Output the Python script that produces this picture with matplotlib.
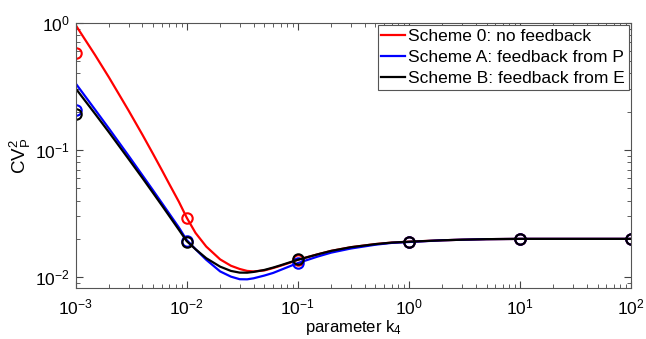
import numpy as np
import matplotlib.pyplot as plt
from matplotlib.ticker import LogLocator, LogFormatterSciNotation, NullFormatter

plt.rcParams['font.family'] = ['Liberation Sans', 'DejaVu Sans']
plt.rcParams['mathtext.fontset'] = 'custom'
plt.rcParams['mathtext.rm'] = 'Liberation Sans'
plt.rcParams['mathtext.it'] = 'Liberation Sans'
plt.rcParams['mathtext.default'] = 'regular'

# curves (k4, CV_P^2)
k_red = [1e-3, 1.5e-3, 2e-3, 3e-3, 4e-3, 5e-3, 6e-3, 7e-3, 8.5e-3, 1e-2, 1.2e-2, 1.5e-2,
         2e-2, 2.5e-2, 3e-2, 3.5e-2, 4e-2, 5e-2, 6e-2, 7e-2, 8.5e-2, 0.1, 0.15, 0.2, 0.3,
         0.5, 0.7, 1, 2, 3, 5, 10, 100]
cv_red = [0.96, 0.556, 0.371, 0.204, 0.1315, 0.0925, 0.069, 0.0536, 0.0392, 0.0294, 0.0223,
          0.0174, 0.0138, 0.0123, 0.0116, 0.0112, 0.0111, 0.0113, 0.0118, 0.0123, 0.0130,
          0.0137, 0.0151, 0.0161, 0.0172, 0.0182, 0.0187, 0.0190, 0.0195, 0.0197, 0.0199,
          0.0200, 0.0200]

k_blue = [1e-3, 1.5e-3, 2e-3, 3e-3, 4e-3, 5e-3, 6e-3, 7e-3, 8.5e-3, 1e-2, 1.2e-2, 1.5e-2,
          2e-2, 2.5e-2, 3e-2, 3.5e-2, 4e-2, 5e-2, 6e-2, 7e-2, 8.5e-2, 0.1, 0.15, 0.2, 0.3,
          0.5, 0.7, 1, 2, 3, 5, 10, 100]
cv_blue = [0.334, 0.207, 0.147, 0.090, 0.0631, 0.0479, 0.0381, 0.0314, 0.0246, 0.0196,
           0.0166, 0.0137, 0.0111, 0.0101, 0.00964, 0.00962, 0.0098, 0.0103, 0.0108, 0.0114,
           0.0122, 0.0129, 0.0145, 0.0156, 0.0168, 0.0180, 0.0186, 0.0189, 0.0195, 0.0197,
           0.0199, 0.0200, 0.0200]

k_black = [1e-3, 1.5e-3, 2e-3, 3e-3, 4e-3, 5e-3, 6e-3, 7e-3, 8.5e-3, 1e-2, 1.2e-2, 1.5e-2,
           2e-2, 2.5e-2, 3e-2, 3.5e-2, 4e-2, 5e-2, 6e-2, 7e-2, 8.5e-2, 0.1, 0.15, 0.2, 0.3,
           0.5, 0.7, 1, 2, 3, 5, 10, 100]
cv_black = [0.305, 0.192, 0.1375, 0.0849, 0.0601, 0.0457, 0.0365, 0.0301, 0.0236, 0.0192,
            0.0166, 0.0141, 0.0121, 0.0112, 0.01086, 0.01085, 0.0110, 0.0114, 0.0119, 0.0124,
            0.0131, 0.0137, 0.0151, 0.0161, 0.0172, 0.0182, 0.0187, 0.0190, 0.0195, 0.0197,
            0.0199, 0.0200, 0.0200]

# simulation points (circles)
k_pts = [1e-3, 1e-2, 1e-1, 1, 10, 100]
pts_red = [0.58, 0.0294, 0.0137, 0.0190, 0.0199, 0.0199]
pts_blue = [0.207, 0.0194, 0.0129, 0.0190, 0.0199, 0.0199]
pts_black = [0.193, 0.0190, 0.0139, 0.0190, 0.0199, 0.0199]

labels = ['Scheme 0: no feedback', 'Scheme A: feedback from P', 'Scheme B: feedback from E']

fig = plt.figure(figsize=(6.46, 3.39), dpi=100)
ax = fig.add_axes([0.117, 0.150, 0.860, 0.783])

series = [(k_red, cv_red, pts_red, 'red'),
          (k_blue, cv_blue, pts_blue, 'blue'),
          (k_black, cv_black, pts_black, 'black')]
for (k, cv, pts, col), lab in zip(series, labels):
    ax.plot(k, cv, color=col, lw=1.6, label=lab)
    ax.plot(k_pts, pts, 'o', mfc='none', mec=col, ms=7.5, mew=1.5)

ax.set_xscale('log')
ax.set_yscale('log')
ax.set_xlim(1e-3, 1e2)
ax.set_ylim(0.0082, 1.0)

ax.xaxis.set_major_locator(LogLocator(base=10, numticks=10))
ax.yaxis.set_major_locator(LogLocator(base=10, numticks=10))
ax.xaxis.set_major_formatter(LogFormatterSciNotation())
ax.yaxis.set_major_formatter(LogFormatterSciNotation())
ax.xaxis.set_minor_formatter(NullFormatter())
ax.yaxis.set_minor_formatter(NullFormatter())
ax.tick_params(which='both', direction='in', top=True, right=True, colors='#444444',
               labelcolor='black', labelsize=12.5)
ax.tick_params(which='major', length=5)
ax.tick_params(which='minor', length=3)
ax.tick_params(axis='x', pad=7)
ax.tick_params(axis='y', pad=4)
for s in ax.spines.values():
    s.set_color('#555555')
    s.set_linewidth(0.8)

ax.set_xlabel('parameter k$_4$', fontsize=12, labelpad=0)
ax.set_ylabel('CV$^2_P$', fontsize=13.5, labelpad=2)

leg = ax.legend(loc='upper right', fontsize=12.5, handlelength=1.4, handletextpad=0.17,
                borderaxespad=0.15, borderpad=0.2, labelspacing=0.35, fancybox=False,
                framealpha=1)
leg.get_frame().set_edgecolor('#555555')
leg.get_frame().set_linewidth(0.8)

fig.savefig('out.png', dpi=100)
